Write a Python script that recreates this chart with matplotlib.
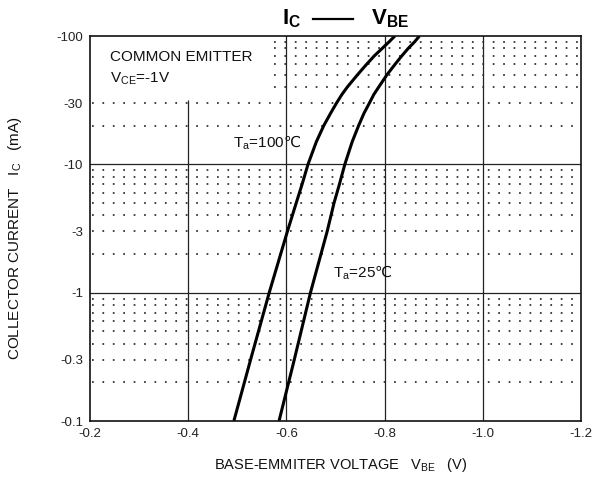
import matplotlib
matplotlib.use('Agg')
import matplotlib.pyplot as plt
from matplotlib.lines import Line2D
from matplotlib.ticker import FixedLocator, FixedFormatter, NullLocator

# collector current (mA) and base-emitter voltage (V)
ic_ma = [-0.1, -0.3, -1, -3, -5, -7, -10, -15, -20, -25, -30, -35, -40,
         -50, -60, -70, -80, -90, -100]
vbe_100c = [-0.493, -0.527, -0.565, -0.602, -0.620, -0.632, -0.644, -0.661,
            -0.676, -0.690, -0.702, -0.713, -0.724, -0.745, -0.763, -0.779,
            -0.795, -0.809, -0.821]
vbe_25c = [-0.585, -0.616, -0.649, -0.683, -0.697, -0.708, -0.719, -0.734,
           -0.747, -0.758, -0.769, -0.778, -0.788, -0.805, -0.821, -0.835,
           -0.848, -0.861, -0.871]

x_ticks = [-0.2, -0.4, -0.6, -0.8, -1.0, -1.2]
x_labels = ['-0.2', '-0.4', '-0.6', '-0.8', '-1.0', '-1.2']
y_ticks = [0.1, 0.3, 1, 3, 10, 30, 100]
y_labels = ['-0.1', '-0.3', '-1', '-3', '-10', '-30', '-100']

plt.rcParams['font.family'] = ['Liberation Sans', 'DejaVu Sans']
plt.rcParams['mathtext.fontset'] = 'custom'
plt.rcParams['mathtext.rm'] = 'Liberation Sans'
plt.rcParams['mathtext.it'] = 'Liberation Sans:italic'
plt.rcParams['mathtext.bf'] = 'Liberation Sans:bold'
plt.rcParams['mathtext.sf'] = 'DejaVu Sans'

fig = plt.figure(figsize=(5.92, 4.82), dpi=100)
ax = fig.add_axes([90/592, 1 - 421/482, 491/592, 385/482])
ax.set_yscale('log')
ax.set_xlim(-0.2, -1.2)
ax.set_ylim(0.1, 100)

ax.xaxis.set_major_locator(FixedLocator(x_ticks))
ax.xaxis.set_major_formatter(FixedFormatter(x_labels))
ax.yaxis.set_major_locator(FixedLocator(y_ticks))
ax.yaxis.set_major_formatter(FixedFormatter(y_labels))
ax.yaxis.set_minor_locator(NullLocator())
ax.tick_params(length=0, pad=5, labelsize=9.5, colors='#222222')

for s in ax.spines.values():
    s.set_linewidth(1.2)
    s.set_color('#111111')

# solid grid
for d in [1, 10]:
    ax.axhline(d, color='#222222', lw=0.9)
for v in [-0.6, -0.8, -1.0]:
    ax.axvline(v, color='#222222', lw=0.9)
ax.vlines(-0.4, 0.1, 32, color='#222222', lw=0.9)

# dotted minor grid (left of the upper decade is kept clear for the note)
for d in [0.1, 1, 10]:
    for k in range(2, 10):
        lvl = k * d
        x0 = -0.575 if lvl >= 40 else -0.205
        ax.hlines(lvl, x0, -1.195, color='#2a2a2a', lw=1.25,
                  linestyles=[(0, (1, 5))])

ax.plot(vbe_100c, [-i for i in ic_ma], color='k', lw=2.2,
        solid_joinstyle='round', solid_capstyle='butt')
ax.plot(vbe_25c, [-i for i in ic_ma], color='k', lw=2.2,
        solid_joinstyle='round', solid_capstyle='butt')

ax.text(-0.241, 68, 'COMMON EMITTER', fontsize=11, va='center', color='#111111')
ax.text(-0.241, 46, r'V$_{\mathrm{CE}}$=-1V', fontsize=11, va='center', color='#111111')
ax.text(-0.491, 14.7, r'T$_{\mathrm{a}}$=100$\mathsf{℃}$', fontsize=11,
        va='center', color='#111111')
ax.text(-0.695, 1.42, r'T$_{\mathrm{a}}$=25$\mathsf{℃}$', fontsize=11,
        va='center', color='#111111')

ax.set_xlabel(r'BASE-EMMITER VOLTAGE   V$_{\mathrm{BE}}$   (V)', fontsize=10.5,
              va='center', color='#111111')
ax.xaxis.set_label_coords(0.511, -0.114)
ax.set_ylabel(r'COLLECTOR CURRENT   I$_{\mathrm{C}}$   (mA)', fontsize=11,
              va='center', color='#111111')
ax.yaxis.set_label_coords(-0.153, 0.475)

fig.text(282/592, 1 - 19/482, r'$\mathbf{I_C}$', fontsize=16, va='center')
fig.text(371/592, 1 - 19/482, r'$\mathbf{V_{BE}}$', fontsize=16, va='center')
fig.add_artist(Line2D([313/592, 353/592], [1 - 19/482, 1 - 19/482],
                      transform=fig.transFigure, color='k', lw=1.6))

fig.savefig('out.png', dpi=100)
